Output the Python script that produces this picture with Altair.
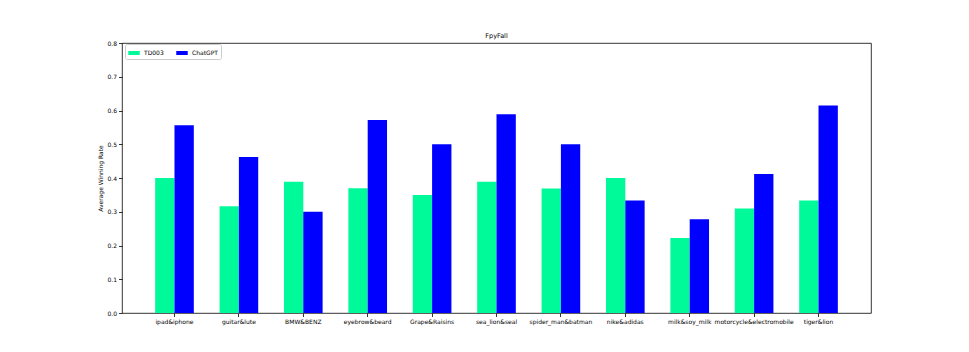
import altair as alt
import pandas as pd

categories = ["ipad&iphone", "guitar&lute", "BMW&BENZ", "eyebrow&beard", "Grape&Raisins",
              "sea_lion&seal", "spider_man&batman", "nike&adidas", "milk&soy_milk",
              "motorcycle&electromobile", "tiger&lion"]
td003 = [0.400, 0.316, 0.389, 0.370, 0.350, 0.389, 0.369, 0.400, 0.222, 0.310, 0.333]
chatgpt = [0.556, 0.462, 0.300, 0.572, 0.500, 0.589, 0.500, 0.333, 0.278, 0.412, 0.615]
series = ["TD003", "ChatGPT"]
colors = ["#00FA9A", "#0000FF"]
y_ticks = [0.0, 0.1, 0.2, 0.3, 0.4, 0.5, 0.6, 0.7, 0.8]

rows = []
for c, a, b in zip(categories, td003, chatgpt):
    rows.append({"pair": c, "model": series[0], "rate": a})
    rows.append({"pair": c, "model": series[1], "rate": b})
df = pd.DataFrame(rows)

FONT = "DejaVu Sans"
FS = 6

chart = alt.Chart(df).mark_bar(strokeWidth=0).encode(
    x=alt.X("pair:N", sort=categories, title=None,
            scale=alt.Scale(paddingInner=0.4, paddingOuter=0.515),
            axis=alt.Axis(labelAngle=0, labelFontSize=FS, labelFont=FONT, labelColor="#000",
                          tickColor="#000", tickSize=3.5, tickWidth=0.8, labelPadding=2,
                          domain=False, grid=False)),
    xOffset=alt.XOffset("model:N", sort=series,
                        scale=alt.Scale(domain=series, paddingInner=0, paddingOuter=0)),
    y=alt.Y("rate:Q", title="Average Winning Rate",
            scale=alt.Scale(domain=[0, 0.8], nice=False, zero=True),
            axis=alt.Axis(values=y_ticks, format=".1f", labelFontSize=FS, labelFont=FONT,
                          labelColor="#000", tickColor="#000", tickSize=3.5, tickWidth=0.8,
                          labelPadding=2, titleFontSize=FS, titleFont=FONT, titleColor="#000",
                          titleFontWeight="normal", titlePadding=3, domain=False, grid=False)),
    color=alt.Color("model:N", sort=series,
                    scale=alt.Scale(domain=series, range=colors),
                    legend=alt.Legend(title=None, orient="none", legendX=3, legendY=1,
                                      direction="horizontal", columns=2,
                                      symbolType="M-1,-0.35H1V0.35H-1Z", symbolSize=132,
                                      symbolStrokeWidth=0, labelFontSize=FS, labelFont=FONT,
                                      labelColor="#000", labelOffset=4, columnPadding=12,
                                      padding=3, strokeColor="#cccccc", cornerRadius=2,
                                      fillColor="white")),
).properties(
    width=749,
    height=270,
    title=alt.Title("FpyFall", fontSize=6.5, font=FONT, fontWeight="normal", color="#000", offset=1),
    autosize=alt.AutoSizeParams(type="none"),
    padding={"left": 114, "top": 35, "right": 90, "bottom": 30},
).configure(
    background="white"
).configure_view(
    stroke="#000", strokeWidth=0.8
)

chart.save("out.html", embed_options={"renderer": "svg", "actions": False})
